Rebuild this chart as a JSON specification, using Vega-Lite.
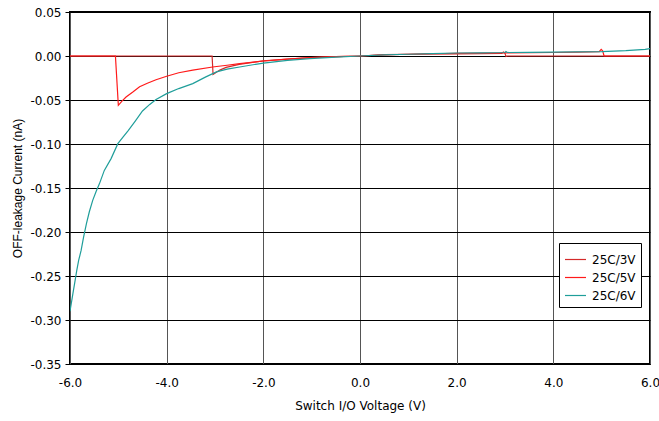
{
  "$schema": "https://vega.github.io/schema/vega-lite/v6.json",
  "width": 580,
  "height": 352,
  "autosize": {"type": "none"},
  "padding": {"left": 70, "top": 12, "right": 9, "bottom": 57},
  "background": "white",
  "config": {
    "font": "DejaVu Sans",
    "view": {"stroke": "black", "strokeWidth": 2},
    "axis": {"labelFont": "DejaVu Sans", "titleFont": "DejaVu Sans", "labelColor": "black", "titleColor": "black", "labelFontSize": 12, "titleFontSize": 12, "titleFontWeight": "normal"}
  },
  "data": {"values": [
    {"s": "25C/3V", "x": -6.0, "y": 0},
    {"s": "25C/3V", "x": -3.06, "y": 0},
    {"s": "25C/3V", "x": -3.04, "y": -0.021},
    {"s": "25C/3V", "x": -2.9, "y": -0.016},
    {"s": "25C/3V", "x": -2.77, "y": -0.013},
    {"s": "25C/3V", "x": -2.5, "y": -0.0095},
    {"s": "25C/3V", "x": -2.0, "y": -0.0055},
    {"s": "25C/3V", "x": -1.5, "y": -0.0035},
    {"s": "25C/3V", "x": -1.0, "y": -0.0018},
    {"s": "25C/3V", "x": -0.5, "y": -0.0008},
    {"s": "25C/3V", "x": 0.0, "y": 0},
    {"s": "25C/3V", "x": 0.5, "y": 0.0015},
    {"s": "25C/3V", "x": 1.0, "y": 0.002},
    {"s": "25C/3V", "x": 1.5, "y": 0.0025},
    {"s": "25C/3V", "x": 2.0, "y": 0.0025},
    {"s": "25C/3V", "x": 2.5, "y": 0.0028},
    {"s": "25C/3V", "x": 2.93, "y": 0.003},
    {"s": "25C/3V", "x": 2.97, "y": 0.0045},
    {"s": "25C/3V", "x": 3.0, "y": 0.003},
    {"s": "25C/3V", "x": 3.02, "y": -0.0005},
    {"s": "25C/3V", "x": 3.05, "y": 0},
    {"s": "25C/3V", "x": 6.0, "y": 0},
    {"s": "25C/5V", "x": -6.0, "y": 0},
    {"s": "25C/5V", "x": -5.06, "y": 0},
    {"s": "25C/5V", "x": -5.0, "y": -0.056},
    {"s": "25C/5V", "x": -4.92, "y": -0.051},
    {"s": "25C/5V", "x": -4.84, "y": -0.0466},
    {"s": "25C/5V", "x": -4.7, "y": -0.041},
    {"s": "25C/5V", "x": -4.56, "y": -0.035},
    {"s": "25C/5V", "x": -4.4, "y": -0.031},
    {"s": "25C/5V", "x": -4.22, "y": -0.027},
    {"s": "25C/5V", "x": -4.0, "y": -0.023},
    {"s": "25C/5V", "x": -3.75, "y": -0.019},
    {"s": "25C/5V", "x": -3.46, "y": -0.016},
    {"s": "25C/5V", "x": -3.05, "y": -0.0125},
    {"s": "25C/5V", "x": -2.75, "y": -0.0105},
    {"s": "25C/5V", "x": -2.49, "y": -0.0087},
    {"s": "25C/5V", "x": -2.0, "y": -0.0057},
    {"s": "25C/5V", "x": -1.5, "y": -0.0035},
    {"s": "25C/5V", "x": -1.04, "y": -0.0019},
    {"s": "25C/5V", "x": -0.5, "y": -0.0008},
    {"s": "25C/5V", "x": 0.0, "y": 0},
    {"s": "25C/5V", "x": 0.5, "y": 0.0012},
    {"s": "25C/5V", "x": 1.0, "y": 0.002},
    {"s": "25C/5V", "x": 2.0, "y": 0.003},
    {"s": "25C/5V", "x": 3.0, "y": 0.0035},
    {"s": "25C/5V", "x": 4.0, "y": 0.004},
    {"s": "25C/5V", "x": 4.5, "y": 0.0045},
    {"s": "25C/5V", "x": 4.95, "y": 0.005},
    {"s": "25C/5V", "x": 4.99, "y": 0.0075},
    {"s": "25C/5V", "x": 5.02, "y": 0.006},
    {"s": "25C/5V", "x": 5.05, "y": 0},
    {"s": "25C/5V", "x": 6.0, "y": 0},
    {"s": "25C/6V", "x": -6.0, "y": -0.29},
    {"s": "25C/6V", "x": -5.97, "y": -0.28},
    {"s": "25C/6V", "x": -5.94, "y": -0.27},
    {"s": "25C/6V", "x": -5.9, "y": -0.257},
    {"s": "25C/6V", "x": -5.86, "y": -0.2435},
    {"s": "25C/6V", "x": -5.82, "y": -0.232},
    {"s": "25C/6V", "x": -5.77, "y": -0.221},
    {"s": "25C/6V", "x": -5.72, "y": -0.206},
    {"s": "25C/6V", "x": -5.66, "y": -0.1905},
    {"s": "25C/6V", "x": -5.6, "y": -0.177},
    {"s": "25C/6V", "x": -5.53, "y": -0.164},
    {"s": "25C/6V", "x": -5.46, "y": -0.154},
    {"s": "25C/6V", "x": -5.39, "y": -0.145},
    {"s": "25C/6V", "x": -5.29, "y": -0.13},
    {"s": "25C/6V", "x": -5.15, "y": -0.1166},
    {"s": "25C/6V", "x": -5.01, "y": -0.0996},
    {"s": "25C/6V", "x": -4.9, "y": -0.092},
    {"s": "25C/6V", "x": -4.8, "y": -0.085},
    {"s": "25C/6V", "x": -4.65, "y": -0.074},
    {"s": "25C/6V", "x": -4.5, "y": -0.0625},
    {"s": "25C/6V", "x": -4.35, "y": -0.055},
    {"s": "25C/6V", "x": -4.22, "y": -0.0495},
    {"s": "25C/6V", "x": -4.0, "y": -0.0428},
    {"s": "25C/6V", "x": -3.75, "y": -0.037},
    {"s": "25C/6V", "x": -3.46, "y": -0.0314},
    {"s": "25C/6V", "x": -3.2, "y": -0.024},
    {"s": "25C/6V", "x": -2.97, "y": -0.018},
    {"s": "25C/6V", "x": -2.75, "y": -0.015},
    {"s": "25C/6V", "x": -2.49, "y": -0.0125},
    {"s": "25C/6V", "x": -2.0, "y": -0.008},
    {"s": "25C/6V", "x": -1.5, "y": -0.005},
    {"s": "25C/6V", "x": -1.04, "y": -0.003},
    {"s": "25C/6V", "x": -0.5, "y": -0.0012},
    {"s": "25C/6V", "x": 0.0, "y": 0},
    {"s": "25C/6V", "x": 0.5, "y": 0.0012},
    {"s": "25C/6V", "x": 1.0, "y": 0.002},
    {"s": "25C/6V", "x": 1.5, "y": 0.0028},
    {"s": "25C/6V", "x": 2.0, "y": 0.0034},
    {"s": "25C/6V", "x": 2.5, "y": 0.0036},
    {"s": "25C/6V", "x": 3.0, "y": 0.004},
    {"s": "25C/6V", "x": 3.02, "y": 0.005},
    {"s": "25C/6V", "x": 3.05, "y": 0.004},
    {"s": "25C/6V", "x": 3.5, "y": 0.0042},
    {"s": "25C/6V", "x": 4.0, "y": 0.0045},
    {"s": "25C/6V", "x": 4.5, "y": 0.0048},
    {"s": "25C/6V", "x": 5.0, "y": 0.005},
    {"s": "25C/6V", "x": 5.5, "y": 0.006},
    {"s": "25C/6V", "x": 5.9, "y": 0.0075},
    {"s": "25C/6V", "x": 6.0, "y": 0.0085}
  ]},
  "mark": {"type": "line", "strokeWidth": 1.2, "clip": true},
  "encoding": {
    "x": {
      "field": "x", "type": "quantitative",
      "scale": {"domain": [-6, 6], "nice": false, "zero": false},
      "axis": {
        "title": "Switch I/O Voltage (V)",
        "values": [-6, -4, -2, 0, 2, 4, 6],
        "format": ".1f",
        "labelExpr": "replace(datum.label, '\u2212', '-')",
        "ticks": false,
        "labelPadding": 13,
        "titlePadding": 12,
        "domain": false,
        "grid": true, "gridColor": "#555555", "gridOpacity": 1, "gridWidth": 1,
        "labelFlush": false
      }
    },
    "y": {
      "field": "y", "type": "quantitative",
      "scale": {"domain": [-0.35, 0.05], "nice": false, "zero": false},
      "axis": {
        "title": "OFF-leakage Current (nA)",
        "titleFont": "Liberation Sans",
        "values": [-0.35, -0.3, -0.25, -0.2, -0.15, -0.1, -0.05, 0, 0.05],
        "format": ".2f",
        "labelExpr": "replace(datum.label, '\u2212', '-')",
        "tickSize": 5, "tickColor": "black", "tickWidth": 1,
        "labelPadding": 4,
        "titlePadding": 5,
        "domain": false,
        "grid": true, "gridColor": "black", "gridOpacity": 1, "gridWidth": 1,
        "labelFlush": false
      }
    },
    "color": {
      "field": "s", "type": "nominal",
      "scale": {"domain": ["25C/3V", "25C/5V", "25C/6V"], "range": ["#d42a2a", "#ff1a1a", "#1f9e9a"]},
      "legend": {
        "title": null,
        "orient": "none",
        "legendX": 489,
        "legendY": 231,
        "fillColor": "white",
        "strokeColor": "black",
        "padding": 5,
        "symbolType": "stroke",
        "symbolSize": 440,
        "symbolStrokeWidth": 1.2,
        "rowPadding": 0,
        "labelFont": "DejaVu Sans",
        "labelFontSize": 12,
        "labelOffset": 5,
        "labelColor": "black"
      }
    }
  }
}
